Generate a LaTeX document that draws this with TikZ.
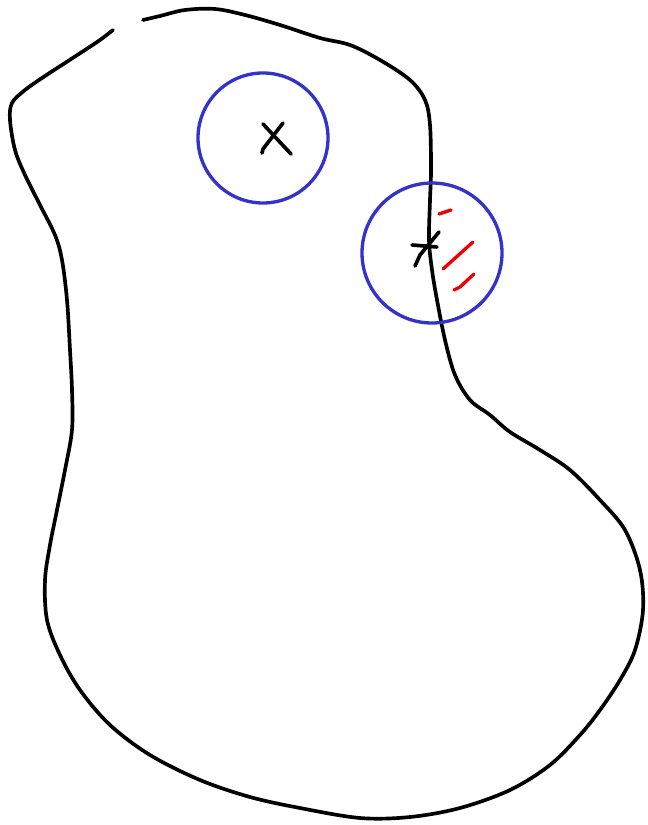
\documentclass[tikz,border=0pt]{standalone}
\usepackage{xcolor}
\usepackage{tikz}
\definecolor{penblue}{RGB}{51,51,204}
\definecolor{penred}{RGB}{240,0,0}

\begin{document}
\begin{tikzpicture}[
  x=0.03cm, y=-0.03cm,
  ink/.style={draw=black, line width=0.11cm, line cap=round, line join=round},
  ring/.style={draw=penblue, line width=0.1cm},
  hatch/.style={draw=penred, line width=0.1cm, line cap=round}
]
\useasboundingbox (0,0) rectangle (647,825);
% outline of the region, open at the top
\draw[ink] plot[smooth, tension=0.55] coordinates {
  (143,20) (160,16) (185,10) (215,9) (245,15) (280,25) (320,38) (350,45)
  (380,60) (410,80) (425,100) (430,125) (431,170) (430,200) (429,240)
  (432,270) (437,300) (445,340) (455,375) (470,400) (490,415) (510,432)
  (540,450) (570,470) (600,500) (625,530) (640,570) (643,610) (635,650)
  (620,680) (600,710) (580,735) (550,765) (510,790) (460,808) (410,817)
  (360,818) (300,808) (250,797) (200,780) (150,755) (110,725) (80,690)
  (60,655) (47,620) (45,580) (50,545) (57,510) (65,470) (72,430) (72,390)
  (70,350) (67,300) (62,260) (55,235) (40,205) (25,175) (15,150) (10,120)
  (12,103) (25,90) (45,76) (65,63) (85,50) (100,40) (113,30)};
% the two discs
\coordinate (inner) at (263,138);
\coordinate (edge) at (432,253);
\draw[ring] (inner) circle (65);
\draw[ring] (edge) circle (70);
% crosses
\draw[ink] (263,124) -- (291,154);
\draw[ink] (283,123) -- (263,149) -- (262,153);
\draw[ink] (412,245) -- (437,247);
\draw[ink] (439,232) -- (420,255) -- (415,266);
% outside part
\draw[hatch] (439,214) -- (451,210);
\draw[hatch] (443,269) -- (473,242);
\draw[hatch] (454,290) -- (460,287) -- (474,274);
\end{tikzpicture}
\end{document}
